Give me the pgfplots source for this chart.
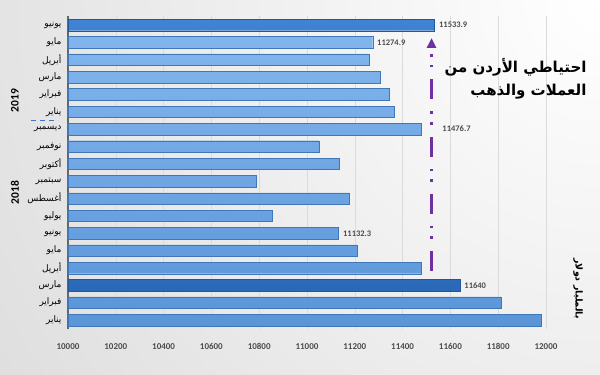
\documentclass[border=0pt]{standalone}
\usepackage{pgfplots}
\pgfplotsset{compat=1.18}
\usetikzlibrary{arrows.meta}
\usepackage{fontspec}
\setmainfont{Carlito}
\newfontfamily\arabicfont[Script=Arabic]{DejaVu Sans}
\TeXXeTstate=1
\newcommand\ar[1]{{\arabicfont\beginR #1\endR}}
\definecolor{barA}{HTML}{82B5EC}
\definecolor{barB}{HTML}{5A95D8}
\definecolor{barE}{HTML}{3F77B8}
\definecolor{hiA}{HTML}{3F83D2}
\definecolor{hiB}{HTML}{2A68B8}
\definecolor{hiE}{HTML}{20589E}
\definecolor{arrowc}{HTML}{7030A0}
\definecolor{sepblue}{HTML}{4472C4}
\begin{document}
\begin{tikzpicture}
\begin{axis}[
  name=main,
  at={(0pt,0pt)}, anchor=south west,
  scale only axis, width=478pt, height=312.4pt,
  xmin=10000, xmax=12000,
  ymin=-0.5, ymax=17.5,
  xtick={10000,10200,...,12000},
  scaled x ticks=false,
  ytick={0,...,17},
  yticklabels={\ar{يناير},\ar{فبراير},\ar{مارس},\ar{أبريل},\ar{مايو},\ar{يونيو},\ar{يوليو},\ar{أغسطس},\ar{سبتمبر},\ar{أكتوبر},\ar{نوفمبر},\ar{ديسمبر},\ar{يناير},\ar{فبراير},\ar{مارس},\ar{أبريل},\ar{مايو},\ar{يونيو}},
  axis x line*=bottom, axis y line*=left,
  x axis line style={draw=none},
  y axis line style={draw=black!60, line width=1.6pt, -},
  major tick length=0pt,
  xmajorgrids, grid style={black!14, line width=0.6pt},
  xticklabel style={font=\fontsize{9}{10}\selectfont\bfseries, text=black!70, yshift=-11pt},
  yticklabel style={font=\arabicfont\fontsize{9}{10}\selectfont, anchor=east, xshift=-3pt},
  /pgf/number format/1000 sep={},
  /pgf/number format/assume math mode=true,
  set layers,
]
\begin{pgfonlayer}{axis background}
\path (rel axis cs:0,0) coordinate (SW);
\begin{scope}
\clip ([xshift=-68pt,yshift=-46.3pt]SW) rectangle ([xshift=532pt,yshift=328.7pt]SW);
\shade[inner color=white, outer color=black!25] ([xshift=-868pt,yshift=-1071.3pt]SW) rectangle ([xshift=1932pt,yshift=1728.7pt]SW);
\end{scope}
\end{pgfonlayer}
\addplot[xbar, bar width=11.5pt, bar shift=0pt, draw=barE, top color=barA, bottom color=barB]
  coordinates {(11980,0) (11811,1) (11479,3) (11210,4) (11132.3,5) (10854,6) (11178,7) (10786,8) (11136,9) (11051,10) (11476.7,11) (11366,12) (11343,13) (11307,14) (11261,15) (11274.9,16)};
\addplot[xbar, bar width=11.5pt, bar shift=0pt, draw=hiE, top color=hiA, bottom color=hiB]
  coordinates {(11640,2) (11533.9,17)};
\addplot[draw=none, mark=none, nodes near coords, point meta=explicit symbolic,
  nodes near coords align={anchor=west},
  every node near coord/.append style={font=\fontsize{8.5}{9}\selectfont\bfseries, text=black!70, xshift=1pt}]
  coordinates {(11533.9,17) [11533.9] (11274.9,16) [11274.9] (11476.7,11) [\hspace*{17pt}11476.7] (11132.3,5) [11132.3] (11640,2) [11640]};
\draw[arrowc, line width=2.6pt, dash pattern=on 20pt off 12pt on 2.6pt off 8pt on 2.6pt off 12pt, -{Triangle[length=10pt,width=9pt]}]
  (axis cs:11521,2.83) -- (axis cs:11521,16.25);
\end{axis}
\pgfresetboundingbox
\useasboundingbox ([xshift=-68pt,yshift=-46.3pt]SW) rectangle ([xshift=532pt,yshift=328.7pt]SW);
\node[rotate=90, font=\fontsize{11.5}{12}\selectfont\bfseries] at ([xshift=-53pt,yshift=228pt]SW) {2019};
\node[rotate=90, font=\fontsize{11.5}{12}\selectfont\bfseries] at ([xshift=-53pt,yshift=136pt]SW) {2018};
\draw[sepblue, line width=1pt, dash pattern=on 5pt off 4pt] ([xshift=-37pt,yshift=208.3pt]SW) -- ([xshift=-10pt,yshift=208.3pt]SW);
\node[anchor=east, align=right, font=\arabicfont\bfseries\fontsize{15}{23}\selectfont] at ([xshift=522pt,yshift=250pt]SW) {\ar{احتياطي الأردن من}\\\ar{العملات والذهب}};
\node[rotate=-90, font=\arabicfont\bfseries\fontsize{9.5}{11}\selectfont] at ([xshift=510pt,yshift=40pt]SW) {\ar{بالمليار دولار}};
\end{tikzpicture}
\end{document}
